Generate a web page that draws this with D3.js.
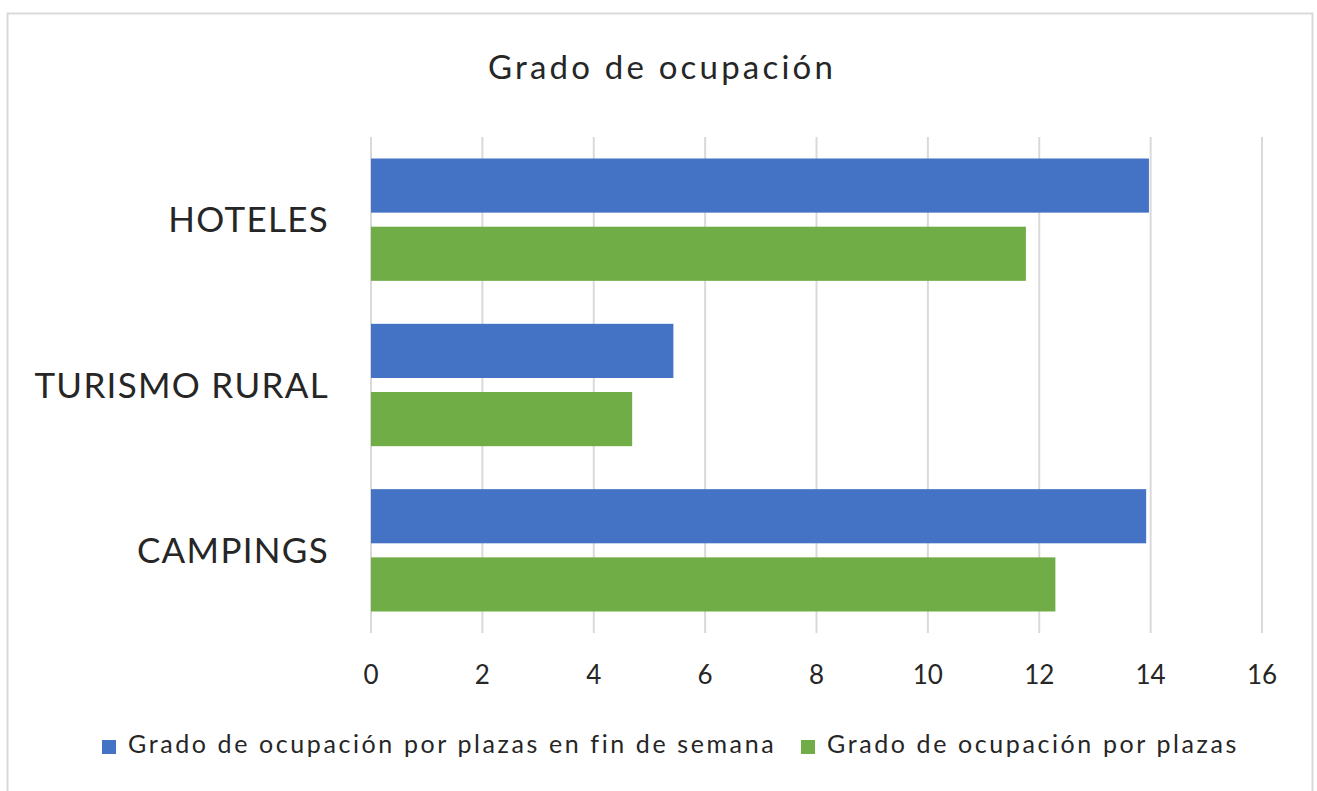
<!DOCTYPE html>
<head>
  <meta charset="utf-8">
  <script src="https://d3js.org/d3.v7.min.js"></script>
  <style>
    body { margin: 0; background: #fff; font-family: Lato, "Open Sans", sans-serif; }
    .grid line { stroke: #d9d9d9; stroke-width: 2; }
    text { fill: #262626; }
  </style>
</head>
<body>
  <div id="chart"></div>
  <script>
    var categories = ["HOTELES", "TURISMO RURAL", "CAMPINGS"];
    var seriesNames = ["Grado de ocupación por plazas en fin de semana", "Grado de ocupación por plazas"];
    var finDeSemana = [13.97, 5.43, 13.92];
    var porPlazas = [11.76, 4.69, 12.29];
    var xTicks = [0, 2, 4, 6, 8, 10, 12, 14, 16];
    var colors = ["#4472c4", "#70ad47"];

    var width = 1317, height = 791;
    var svg = d3.select("#chart").append("svg")
      .attr("width", width)
      .attr("height", height);

    // chart border
    svg.append("rect")
      .attr("x", 7.5).attr("y", 13.5)
      .attr("width", 1305).attr("height", 800)
      .attr("fill", "#fff")
      .attr("stroke", "#d9d9d9")
      .attr("stroke-width", 2);

    var x = d3.scaleLinear().domain([0, 16]).range([371, 1262]);
    var y = d3.scaleBand().domain(categories).range([137, 633])
      .paddingInner(0.26).paddingOuter(0.13);
    var ySub = d3.scaleBand().domain([0, 1]).range([0, y.bandwidth()]).paddingInner(0.206);

    svg.append("g")
      .attr("class", "grid")
      .selectAll("line")
      .data(xTicks)
      .enter().append("line")
        .attr("x1", function(d) { return x(d); })
        .attr("x2", function(d) { return x(d); })
        .attr("y1", 137)
        .attr("y2", 633);

    var rows = categories.map(function(c, i) {
      return { cat: c, values: [finDeSemana[i], porPlazas[i]] };
    });

    var groups = svg.selectAll("g.row")
      .data(rows)
      .enter().append("g")
        .attr("class", "row")
        .attr("transform", function(d) { return "translate(0," + y(d.cat) + ")"; });

    groups.selectAll("rect")
      .data(function(d) { return d.values; })
      .enter().append("rect")
        .attr("x", x(0))
        .attr("y", function(d, i) { return ySub(i); })
        .attr("width", function(d) { return x(d) - x(0); })
        .attr("height", ySub.bandwidth())
        .attr("fill", function(d, i) { return colors[i]; });

    groups.append("text")
      .attr("x", 329)
      .attr("y", y.bandwidth() / 2)
      .attr("dy", "0.36em")
      .attr("text-anchor", "end")
      .style("font-size", "35px")
      .style("letter-spacing", "1.3px")
      .text(function(d) { return d.cat; });

    svg.append("g")
      .selectAll("text")
      .data(xTicks)
      .enter().append("text")
        .attr("x", function(d) { return x(d); })
        .attr("y", 684)
        .attr("text-anchor", "middle")
        .style("font-size", "26px")
        .text(function(d) { return d; });

    svg.append("text")
      .attr("x", 662)
      .attr("y", 79)
      .attr("text-anchor", "middle")
      .style("font-size", "33px")
      .style("letter-spacing", "3.2px")
      .text("Grado de ocupación");

    var legendX = [102, 801];
    var legend = svg.selectAll("g.legend")
      .data(seriesNames)
      .enter().append("g")
        .attr("class", "legend")
        .attr("transform", function(d, i) { return "translate(" + legendX[i] + ",0)"; });
    legend.append("rect")
      .attr("x", 0).attr("y", 740)
      .attr("width", 14).attr("height", 14)
      .attr("fill", function(d, i) { return colors[i]; });
    legend.append("text")
      .attr("x", 26)
      .attr("y", 753)
      .style("font-size", "25px")
      .style("letter-spacing", "2.6px")
      .text(function(d) { return d; });
  </script>
</body>
